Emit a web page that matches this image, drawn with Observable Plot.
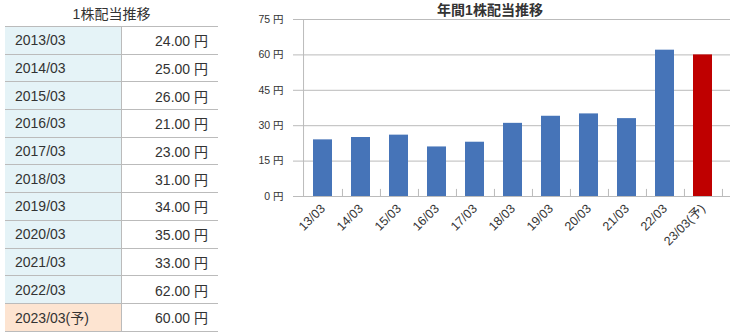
<!DOCTYPE html>
<html>
<head>
<meta charset="utf-8">
<script src="https://cdn.jsdelivr.net/npm/d3@7"></script>
<script src="https://cdn.jsdelivr.net/npm/@observablehq/plot@0.6"></script>
<style>
  html, body { margin: 0; padding: 0; width: 731px; height: 336px; overflow: hidden; background: #fff; }
  body { font-family: "Liberation Sans", "Noto Sans CJK JP", sans-serif; color: #333; position: relative; }
  #tableTitle { position: absolute; left: 5px; width: 213px; top: 5px; text-align: center; font-size: 14px; line-height: 18px; }
  #divTable { position: absolute; left: 5px; top: 26px; width: 213px; border-collapse: collapse; font-size: 14px; }
  #divTable td { height: 26.7px; padding: 0; border-top: 1px solid #bbb; border-bottom: 1px solid #bbb; }
  #divTable td.p { background: #e5f3f7; padding-left: 10px; border-right: 1px solid #bbb; width: 106px; }
  #divTable td.v { text-align: right; padding-right: 10px; }
  #divTable tr.fc td.p { background: #fde4d1; }
  #chartTitle { position: absolute; left: 420px; width: 140px; top: 1px; text-align: center; font-size: 14px; font-weight: bold; line-height: 18px; }
  #chart { position: absolute; left: 250px; top: 0; }
</style>
</head>
<body>
<div id="tableTitle">1株配当推移</div>
<table id="divTable"></table>
<div id="chart"></div>
<div id="chartTitle">年間1株配当推移</div>
<script>
const periods = ["2013/03","2014/03","2015/03","2016/03","2017/03","2018/03","2019/03","2020/03","2021/03","2022/03","2023/03(予)"];
const dividends = [24, 25, 26, 21, 23, 31, 34, 35, 33, 62, 60];
const chartLabels = ["13/03","14/03","15/03","16/03","17/03","18/03","19/03","20/03","21/03","22/03","23/03(予)"];
const forecastFlags = [false,false,false,false,false,false,false,false,false,false,true];
const yTicks = [0, 15, 30, 45, 60, 75];

// table
const table = document.getElementById("divTable");
periods.forEach((p, i) => {
  const tr = document.createElement("tr");
  if (forecastFlags[i]) tr.className = "fc";
  const a = document.createElement("td"); a.className = "p"; a.textContent = p;
  const b = document.createElement("td"); b.className = "v"; b.textContent = dividends[i].toFixed(2) + " 円";
  tr.append(a, b);
  table.append(tr);
});

const rows = chartLabels.map((c, i) => ({label: c, value: dividends[i], forecast: forecastFlags[i]}));

const W = 481, H = 336, ML = 48, MR = 1, MT = 19, MB = 140, INSET_R = 4;
const step = (W - ML - MR - INSET_R) / chartLabels.length;
const grid = "#bbb";

const plot = Plot.plot({
  width: W, height: H,
  marginLeft: ML, marginRight: MR, marginTop: MT, marginBottom: MB,
  style: {background: "transparent", fontFamily: "'Liberation Sans', 'Noto Sans CJK JP', sans-serif", fontSize: "12px", color: "#333"},
  x: {domain: chartLabels, paddingInner: 0.5, paddingOuter: 0.25, insetRight: INSET_R},
  y: {domain: [0, 75]},
  marks: [
    Plot.gridY(yTicks, {stroke: grid, strokeOpacity: 1, x1: null}),
    Plot.axisY({ticks: yTicks, tickSize: 5, tickPadding: 10, tickFormat: d => d + " 円", stroke: grid, label: null, fontSize: 10.5}),
    Plot.barY(rows, {x: "label", y: "value", fill: d => d.forecast ? "#bf0000" : "#4674b8"}),
    Plot.ruleX(chartLabels, {x: d => d, y1: 0, y2: 3, dx: step / 2, stroke: grid}),
    Plot.ruleX([chartLabels[0]], {x: d => d, y1: 0, y2: 75, dx: -step / 2, stroke: grid}),
    Plot.ruleY([0], {stroke: grid}),
    Plot.axisX({tickSize: 0, tickPadding: 10, tickRotate: -45, label: null, fontSize: 12.5})
  ]
});
document.getElementById("chart").append(plot);
</script>
</body>
</html>
